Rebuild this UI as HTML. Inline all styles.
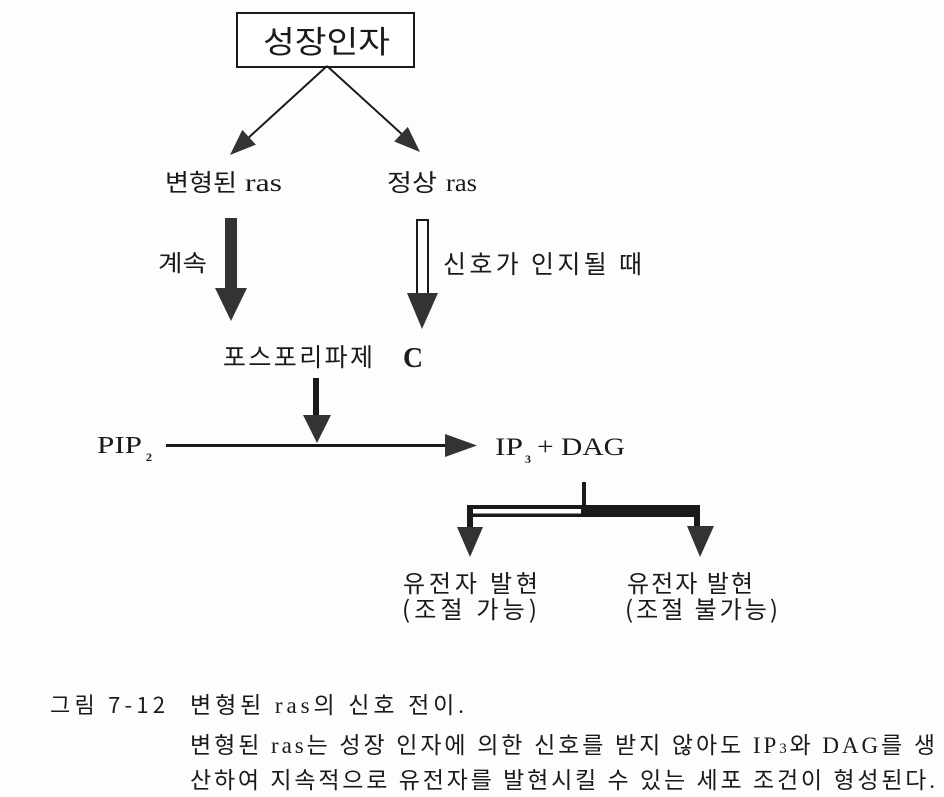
<!DOCTYPE html>
<html><head><meta charset="utf-8">
<style>
html,body{margin:0;padding:0;background:#fff;}
svg{display:block;}
text{font-family:"Liberation Serif","Noto Sans CJK KR",serif;fill:#1a1a1a;}
.k{font-family:"Noto Sans CJK KR","Liberation Sans",sans-serif;}
</style></head>
<body>
<svg width="944" height="797" viewBox="0 0 944 797" xmlns="http://www.w3.org/2000/svg">
<rect width="944" height="797" fill="#fdfdfd"/>
<!-- box -->
<rect x="237" y="13" width="177" height="54" fill="#fff" stroke="#1a1a1a" stroke-width="2"/>
<text class="k" x="263" y="53" font-size="31" textLength="127" lengthAdjust="spacingAndGlyphs">성장인자</text>
<!-- diagonal arrows -->
<line x1="327" y1="66" x2="246" y2="140" stroke="#1a1a1a" stroke-width="2"/>
<line x1="327" y1="66" x2="405" y2="137" stroke="#1a1a1a" stroke-width="2"/>
<polygon points="230,155 255.9,144.7 242.3,129.9" fill="#333"/>
<polygon points="420,152 394.2,141.5 407.8,126.9" fill="#333"/>
<!-- ras labels -->
<text class="k" x="165" y="191" font-size="24" textLength="72" lengthAdjust="spacingAndGlyphs">변형된</text>
<text x="245" y="191" font-size="25" textLength="37" lengthAdjust="spacingAndGlyphs">ras</text>
<text class="k" x="387" y="191" font-size="24" textLength="50" lengthAdjust="spacingAndGlyphs">정상</text>
<text x="446" y="191" font-size="25" textLength="31" lengthAdjust="spacingAndGlyphs">ras</text>
<!-- thick dark arrow -->
<rect x="225" y="218" width="12" height="71" fill="#333"/>
<polygon points="215,288 247,288 231,321" fill="#333"/>
<!-- white arrow -->
<rect x="417" y="220" width="11" height="74" fill="#fff" stroke="#1a1a1a" stroke-width="2"/>
<polygon points="407,293 438,293 422,329" fill="#333"/>
<text class="k" x="158" y="271" font-size="23" textLength="49" lengthAdjust="spacingAndGlyphs">계속</text>
<text class="k" x="443" y="273" font-size="25" textLength="199" lengthAdjust="spacing">신호가 인지될 때</text>
<!-- PLC -->
<text class="k" x="223" y="366" font-size="25" textLength="150" lengthAdjust="spacing">포스포리파제</text>
<text x="403" y="367" font-size="29" font-weight="bold" textLength="20" lengthAdjust="spacingAndGlyphs">C</text>
<rect x="313" y="378" width="6" height="38" fill="#1a1a1a"/>
<polygon points="303,415 331,415 317,443" fill="#333"/>
<!-- PIP2 line -->
<line x1="166" y1="445.5" x2="448" y2="445.5" stroke="#1a1a1a" stroke-width="3"/>
<polygon points="445,434 477,445.5 445,457" fill="#333"/>
<text x="97" y="453" font-size="24" textLength="45" lengthAdjust="spacingAndGlyphs">PIP</text>
<text x="146" y="461" font-size="12" font-weight="bold">2</text>
<text x="495" y="455" font-size="25" textLength="28" lengthAdjust="spacingAndGlyphs">IP</text>
<text x="525" y="463" font-size="12" font-weight="bold">3</text>
<text x="537" y="455" font-size="25" textLength="88" lengthAdjust="spacingAndGlyphs">+ DAG</text>
<!-- split -->
<rect x="582" y="482" width="4" height="24" fill="#1a1a1a"/>
<rect x="467" y="505" width="233" height="12" fill="#1a1a1a"/>
<rect x="473" y="509" width="108" height="4.5" fill="#fff"/>
<rect x="467" y="505" width="6" height="24" fill="#1a1a1a"/>
<rect x="694" y="505" width="6" height="22" fill="#1a1a1a"/>
<polygon points="457,527 483,527 470,557" fill="#333"/>
<polygon points="687,526 714,526 700,557" fill="#333"/>
<!-- gene expression labels -->
<text class="k" x="403" y="592" font-size="24" textLength="135" lengthAdjust="spacing">유전자 발현</text>
<text class="k" x="402" y="618" font-size="24" textLength="135" lengthAdjust="spacing">(조절 가능)</text>
<text class="k" x="627" y="592" font-size="24" textLength="126" lengthAdjust="spacing">유전자 발현</text>
<text class="k" x="625" y="618" font-size="24" textLength="153" lengthAdjust="spacing">(조절 불가능)</text>
<!-- caption -->
<text class="k" x="50" y="713" font-size="22" textLength="115" lengthAdjust="spacing">그림 7-12</text>
<text x="190" y="713" font-size="23" textLength="274" lengthAdjust="spacing">변형된 ras의 신호 전이.</text>
<text x="190" y="753" font-size="23" textLength="745" lengthAdjust="spacing">변형된 ras는 성장 인자에 의한 신호를 받지 않아도 IP<tspan font-size="15">3</tspan>와 DAG를 생</text>
<text x="190" y="788" font-size="23" textLength="745" lengthAdjust="spacing">산하여 지속적으로 유전자를 발현시킬 수 있는 세포 조건이 형성된다.</text>
</svg>
</body></html>
